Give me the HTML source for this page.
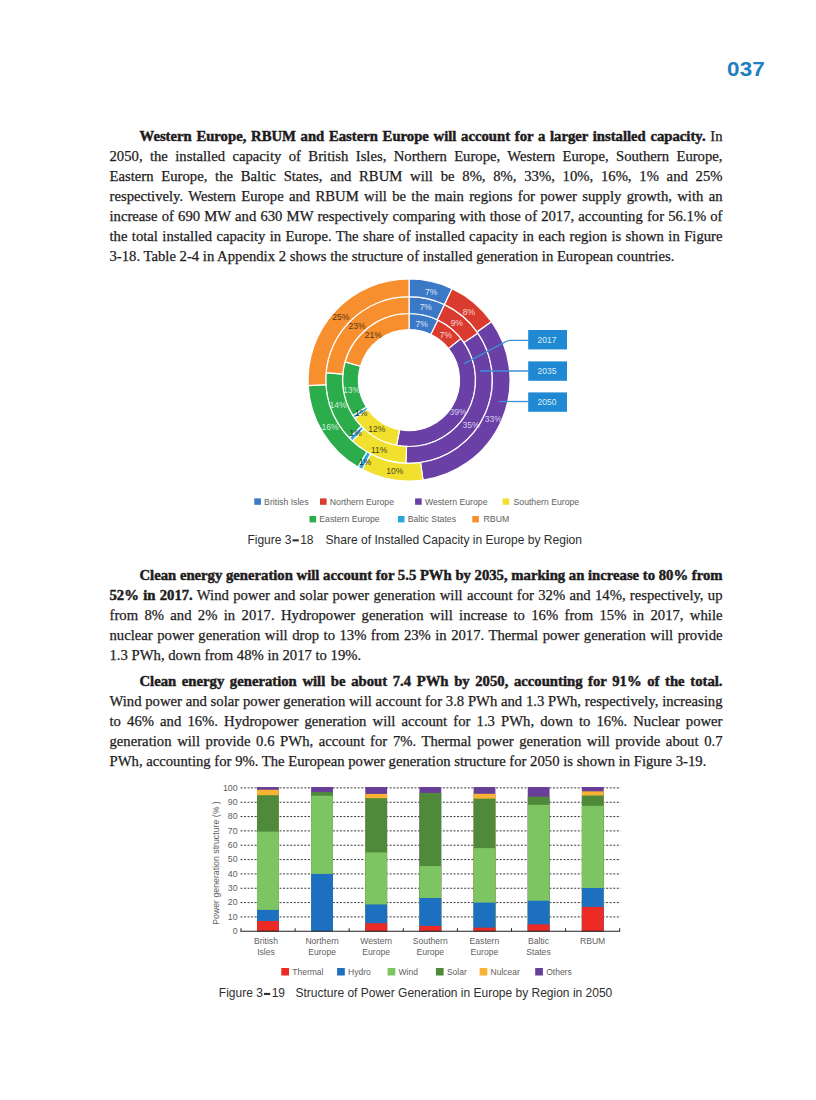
<!DOCTYPE html>
<html><head><meta charset="utf-8">
<style>
html,body{margin:0;padding:0;background:#fff;}
body{width:816px;height:1100px;position:relative;overflow:hidden;}
.ln{position:absolute;left:109.5px;width:612.5px;height:20.0px;line-height:20.0px;font-family:"Liberation Serif",serif;font-size:14.7px;color:#1e1b1c;white-space:nowrap;-webkit-text-stroke:0.25px #1e1b1c;}
.ln.ind{left:139.5px;width:582.5px;}
.ln b{font-weight:bold;-webkit-text-stroke:0.45px #1e1b1c;}
.pn{position:absolute;left:727px;top:57px;font-family:"Liberation Sans",sans-serif;font-weight:bold;font-size:20px;line-height:24px;color:#1f7dc0;letter-spacing:0.2px;transform:scaleX(1.12);transform-origin:0 0;}
svg{position:absolute;left:0;top:0;}
svg text{font-family:"Liberation Sans",sans-serif;}
.cap{position:absolute;font-family:"Liberation Sans",sans-serif;font-size:12.6px;color:#2b2b2b;white-space:pre;line-height:16px;}
</style></head><body>
<div class="pn">037</div>
<div class="ln ind" style="top:126.04px;word-spacing:1.024px"><b>Western Europe, RBUM and Eastern Europe will account for a larger installed capacity.</b> In</div>
<div class="ln" style="top:146.04px;word-spacing:3.720px">2050, the installed capacity of British Isles, Northern Europe, Western Europe, Southern Europe,</div>
<div class="ln" style="top:166.04px;word-spacing:4.073px">Eastern Europe, the Baltic States, and RBUM will be 8%, 8%, 33%, 10%, 16%, 1% and 25%</div>
<div class="ln" style="top:186.04px;word-spacing:1.624px">respectively. Western Europe and RBUM will be the main regions for power supply growth, with an</div>
<div class="ln" style="top:206.04px;word-spacing:0.464px">increase of 690 MW and 630 MW respectively comparing with those of 2017, accounting for 56.1% of</div>
<div class="ln" style="top:226.04px;word-spacing:0.710px">the total installed capacity in Europe. The share of installed capacity in each region is shown in Figure</div>
<div class="ln" style="top:246.04px;word-spacing:0.000px">3-18. Table 2-4 in Appendix 2 shows the structure of installed generation in European countries.</div>
<div class="ln ind" style="top:565.34px;word-spacing:0.002px"><b>Clean energy generation will account for 5.5 PWh by 2035, marking an increase to 80% from</b></div>
<div class="ln" style="top:585.34px;word-spacing:0.620px"><b>52% in 2017.</b> Wind power and solar power generation will account for 32% and 14%, respectively, up</div>
<div class="ln" style="top:605.34px;word-spacing:2.673px">from 8% and 2% in 2017. Hydropower generation will increase to 16% from 15% in 2017, while</div>
<div class="ln" style="top:625.34px;word-spacing:0.804px">nuclear power generation will drop to 13% from 23% in 2017. Thermal power generation will provide</div>
<div class="ln" style="top:645.34px;word-spacing:0.000px">1.3 PWh, down from 48% in 2017 to 19%.</div>
<div class="ln ind" style="top:671.24px;word-spacing:1.949px"><b>Clean energy generation will be about 7.4 PWh by 2050, accounting for 91% of the total.</b></div>
<div class="ln" style="top:691.24px;word-spacing:0.047px">Wind power and solar power generation will account for 3.8 PWh and 1.3 PWh, respectively, increasing</div>
<div class="ln" style="top:711.24px;word-spacing:2.444px">to 46% and 16%. Hydropower generation will account for 1.3 PWh, down to 16%. Nuclear power</div>
<div class="ln" style="top:731.24px;word-spacing:1.969px">generation will provide 0.6 PWh, account for 7%. Thermal power generation will provide about 0.7</div>
<div class="ln" style="top:751.24px;word-spacing:0.000px">PWh, accounting for 9%. The European power generation structure for 2050 is shown in Figure 3-19.</div>
<svg width="816" height="1100" viewBox="0 0 816 1100">
<path d="M409.05,313.50A66.5,66.5 0 0 1 437.93,320.10L430.98,334.51A50.5,50.5 0 0 0 409.05,329.50Z" fill="#3b78c6" stroke="#fff" stroke-width="1.2"/>
<path d="M437.93,320.10A66.5,66.5 0 0 1 461.08,338.58L448.56,348.55A50.5,50.5 0 0 0 430.98,334.51Z" fill="#da3b2f" stroke="#fff" stroke-width="1.2"/>
<path d="M461.08,338.58A66.5,66.5 0 0 1 396.59,445.32L399.59,429.61A50.5,50.5 0 0 0 448.56,348.55Z" fill="#6a3fa6" stroke="#fff" stroke-width="1.2"/>
<path d="M396.59,445.32A66.5,66.5 0 0 1 354.64,418.24L367.73,409.04A50.5,50.5 0 0 0 399.59,429.61Z" fill="#f1e12e" stroke="#fff" stroke-width="1.2"/>
<path d="M354.64,418.24A66.5,66.5 0 0 1 352.79,415.46L366.33,406.93A50.5,50.5 0 0 0 367.73,409.04Z" fill="#2aa6dd" stroke="#fff" stroke-width="1.2"/>
<path d="M352.79,415.46A66.5,66.5 0 0 1 345.08,361.85L360.47,366.22A50.5,50.5 0 0 0 366.33,406.93Z" fill="#2aad4a" stroke="#fff" stroke-width="1.2"/>
<path d="M345.08,361.85A66.5,66.5 0 0 1 409.05,313.50L409.05,329.50A50.5,50.5 0 0 0 360.47,366.22Z" fill="#f78f2e" stroke="#fff" stroke-width="1.2"/>
<path d="M409.05,296.70A83.3,83.3 0 0 1 444.52,304.63L437.36,319.83A66.5,66.5 0 0 0 409.05,313.50Z" fill="#3b78c6" stroke="#fff" stroke-width="1.2"/>
<path d="M444.52,304.63A83.3,83.3 0 0 1 477.95,333.18L464.05,342.62A66.5,66.5 0 0 0 437.36,319.83Z" fill="#da3b2f" stroke="#fff" stroke-width="1.2"/>
<path d="M477.95,333.18A83.3,83.3 0 0 1 405.91,463.24L406.54,446.45A66.5,66.5 0 0 0 464.05,342.62Z" fill="#6a3fa6" stroke="#fff" stroke-width="1.2"/>
<path d="M405.91,463.24A83.3,83.3 0 0 1 352.22,440.90L363.68,428.62A66.5,66.5 0 0 0 406.54,446.45Z" fill="#f1e12e" stroke="#fff" stroke-width="1.2"/>
<path d="M352.22,440.90A83.3,83.3 0 0 1 349.23,437.97L361.29,426.28A66.5,66.5 0 0 0 363.68,428.62Z" fill="#2aa6dd" stroke="#fff" stroke-width="1.2"/>
<path d="M349.23,437.97A83.3,83.3 0 0 1 326.07,372.68L342.81,374.16A66.5,66.5 0 0 0 361.29,426.28Z" fill="#2aad4a" stroke="#fff" stroke-width="1.2"/>
<path d="M326.07,372.68A83.3,83.3 0 0 1 409.05,296.70L409.05,313.50A66.5,66.5 0 0 0 342.81,374.16Z" fill="#f78f2e" stroke="#fff" stroke-width="1.2"/>
<path d="M409.05,279.00A101.0,101.0 0 0 1 452.05,288.61L444.52,304.63A83.3,83.3 0 0 0 409.05,296.70Z" fill="#3b78c6" stroke="#fff" stroke-width="1.2"/>
<path d="M452.05,288.61A101.0,101.0 0 0 1 491.50,321.67L477.05,331.89A83.3,83.3 0 0 0 444.52,304.63Z" fill="#da3b2f" stroke="#fff" stroke-width="1.2"/>
<path d="M491.50,321.67A101.0,101.0 0 0 1 422.97,480.04L420.53,462.51A83.3,83.3 0 0 0 477.05,331.89Z" fill="#6a3fa6" stroke="#fff" stroke-width="1.2"/>
<path d="M422.97,480.04A101.0,101.0 0 0 1 362.35,469.56L370.53,453.86A83.3,83.3 0 0 0 420.53,462.51Z" fill="#f1e12e" stroke="#fff" stroke-width="1.2"/>
<path d="M362.35,469.56A101.0,101.0 0 0 1 357.91,467.10L366.87,451.83A83.3,83.3 0 0 0 370.53,453.86Z" fill="#2aa6dd" stroke="#fff" stroke-width="1.2"/>
<path d="M357.91,467.10A101.0,101.0 0 0 1 308.21,385.71L325.88,384.71A83.3,83.3 0 0 0 366.87,451.83Z" fill="#2aad4a" stroke="#fff" stroke-width="1.2"/>
<path d="M308.21,385.71A101.0,101.0 0 0 1 409.05,279.00L409.05,296.70A83.3,83.3 0 0 0 325.88,384.71Z" fill="#f78f2e" stroke="#fff" stroke-width="1.2"/>
<text x="431.2" y="294.8" fill="#dfe8f5" font-size="8.5" text-anchor="middle">7%</text>
<text x="468.9" y="315.0" fill="#f5d6d2" font-size="8.5" text-anchor="middle">8%</text>
<text x="493.2" y="422.3" fill="#d9cdee" font-size="8.5" text-anchor="middle">33%</text>
<text x="394.8" y="474.09999999999997" fill="#4a4520" font-size="8.5" text-anchor="middle">10%</text>
<text x="365.1" y="465.2" fill="#333" font-size="8.5" text-anchor="middle">1%</text>
<text x="330.1" y="429.59999999999997" fill="#d4f0dc" font-size="8.5" text-anchor="middle">16%</text>
<text x="340.8" y="320.4" fill="#5a3512" font-size="8.5" text-anchor="middle">25%</text>
<text x="425.8" y="310.09999999999997" fill="#dfe8f5" font-size="8.5" text-anchor="middle">7%</text>
<text x="456.8" y="325.8" fill="#f5d6d2" font-size="8.5" text-anchor="middle">9%</text>
<text x="471.1" y="427.7" fill="#d9cdee" font-size="8.5" text-anchor="middle">35%</text>
<text x="379.1" y="453.3" fill="#4a4520" font-size="8.5" text-anchor="middle">11%</text>
<text x="355.7" y="436.3" fill="#333" font-size="8.5" text-anchor="middle">1%</text>
<text x="338.1" y="408.0" fill="#d4f0dc" font-size="8.5" text-anchor="middle">14%</text>
<text x="357.0" y="329.3" fill="#5a3512" font-size="8.5" text-anchor="middle">23%</text>
<text x="421.7" y="326.59999999999997" fill="#dfe8f5" font-size="8.5" text-anchor="middle">7%</text>
<text x="446.0" y="337.9" fill="#f5d6d2" font-size="8.5" text-anchor="middle">7%</text>
<text x="458.1" y="415.3" fill="#d9cdee" font-size="8.5" text-anchor="middle">39%</text>
<text x="376.7" y="432.3" fill="#4a4520" font-size="8.5" text-anchor="middle">12%</text>
<text x="361.1" y="416.09999999999997" fill="#333" font-size="8.5" text-anchor="middle">1%</text>
<text x="351.6" y="392.59999999999997" fill="#d4f0dc" font-size="8.5" text-anchor="middle">13%</text>
<text x="373.2" y="337.9" fill="#5a3512" font-size="8.5" text-anchor="middle">21%</text>
<rect x="528.2" y="330" width="38.8" height="19.4" fill="#2089d3"/>
<text x="547" y="343" fill="#dcedf9" font-size="8.5" text-anchor="middle">2017</text>
<rect x="528.2" y="361.4" width="38.8" height="19.4" fill="#2089d3"/>
<text x="547" y="374.4" fill="#dcedf9" font-size="8.5" text-anchor="middle">2035</text>
<rect x="528.2" y="392.4" width="38.8" height="19.4" fill="#2089d3"/>
<text x="547" y="405.4" fill="#dcedf9" font-size="8.5" text-anchor="middle">2050</text>
<path d="M528.2,340.3 H511 Q506.5,340.3 503,343.2 L463.8,363.8" fill="none" stroke="#3d8fd4" stroke-width="1.3"/>
<path d="M528.2,371 L480,371" fill="none" stroke="#3d8fd4" stroke-width="1.3"/>
<path d="M528.2,401.5 L498.9,401.5" fill="none" stroke="#3d8fd4" stroke-width="1.3"/>
<rect x="254.3" y="498.4" width="6.6" height="6.4" fill="#3b78c6"/>
<text x="264.1" y="504.79999999999995" fill="#606060" font-size="8.7">British Isles</text>
<rect x="320" y="498.4" width="6.6" height="6.4" fill="#da3b2f"/>
<text x="329.8" y="504.79999999999995" fill="#606060" font-size="8.7">Northern Europe</text>
<rect x="415.1" y="498.4" width="6.6" height="6.4" fill="#6a3fa6"/>
<text x="424.90000000000003" y="504.79999999999995" fill="#606060" font-size="8.7">Western Europe</text>
<rect x="502.6" y="498.4" width="6.6" height="6.4" fill="#f1e12e"/>
<text x="513.5" y="504.79999999999995" fill="#606060" font-size="8.7">Southern Europe</text>
<rect x="309.5" y="516" width="6.6" height="6.4" fill="#2aad4a"/>
<text x="319.3" y="522.4" fill="#606060" font-size="8.7">Eastern Europe</text>
<rect x="397.9" y="516" width="6.6" height="6.4" fill="#2aa6dd"/>
<text x="407.7" y="522.4" fill="#606060" font-size="8.7">Baltic States</text>
<rect x="472.3" y="516" width="6.6" height="6.4" fill="#f78f2e"/>
<text x="483.6" y="522.4" fill="#606060" font-size="8.7">RBUM</text>
<line x1="240.5" y1="916.91" x2="620.6" y2="916.91" stroke="#3a3a3a" stroke-width="1.0" stroke-dasharray="2 1.55"/>
<line x1="240.5" y1="902.58" x2="620.6" y2="902.58" stroke="#3a3a3a" stroke-width="1.0" stroke-dasharray="2 1.55"/>
<line x1="240.5" y1="888.25" x2="620.6" y2="888.25" stroke="#3a3a3a" stroke-width="1.0" stroke-dasharray="2 1.55"/>
<line x1="240.5" y1="873.91" x2="620.6" y2="873.91" stroke="#3a3a3a" stroke-width="1.0" stroke-dasharray="2 1.55"/>
<line x1="240.5" y1="859.58" x2="620.6" y2="859.58" stroke="#3a3a3a" stroke-width="1.0" stroke-dasharray="2 1.55"/>
<line x1="240.5" y1="845.24" x2="620.6" y2="845.24" stroke="#3a3a3a" stroke-width="1.0" stroke-dasharray="2 1.55"/>
<line x1="240.5" y1="830.90" x2="620.6" y2="830.90" stroke="#3a3a3a" stroke-width="1.0" stroke-dasharray="2 1.55"/>
<line x1="240.5" y1="816.57" x2="620.6" y2="816.57" stroke="#3a3a3a" stroke-width="1.0" stroke-dasharray="2 1.55"/>
<line x1="240.5" y1="802.24" x2="620.6" y2="802.24" stroke="#3a3a3a" stroke-width="1.0" stroke-dasharray="2 1.55"/>
<line x1="240.5" y1="787.90" x2="620.6" y2="787.90" stroke="#3a3a3a" stroke-width="1.0" stroke-dasharray="2 1.55"/>
<text x="237.6" y="933.85" fill="#606060" font-size="8.8" text-anchor="end">0</text>
<text x="237.6" y="919.51" fill="#606060" font-size="8.8" text-anchor="end">10</text>
<text x="237.6" y="905.18" fill="#606060" font-size="8.8" text-anchor="end">20</text>
<text x="237.6" y="890.85" fill="#606060" font-size="8.8" text-anchor="end">30</text>
<text x="237.6" y="876.51" fill="#606060" font-size="8.8" text-anchor="end">40</text>
<text x="237.6" y="862.18" fill="#606060" font-size="8.8" text-anchor="end">50</text>
<text x="237.6" y="847.84" fill="#606060" font-size="8.8" text-anchor="end">60</text>
<text x="237.6" y="833.50" fill="#606060" font-size="8.8" text-anchor="end">70</text>
<text x="237.6" y="819.17" fill="#606060" font-size="8.8" text-anchor="end">80</text>
<text x="237.6" y="804.84" fill="#606060" font-size="8.8" text-anchor="end">90</text>
<text x="237.6" y="790.50" fill="#606060" font-size="8.8" text-anchor="end">100</text>
<rect x="257.0" y="787.04" width="21.8" height="144.21" fill="#673e98"/>
<rect x="257.0" y="789.76" width="21.8" height="141.49" fill="#f8b234"/>
<rect x="257.0" y="795.21" width="21.8" height="136.04" fill="#4f8a3b"/>
<rect x="257.0" y="831.62" width="21.8" height="99.63" fill="#7dc462"/>
<rect x="257.0" y="909.89" width="21.8" height="21.36" fill="#1d6fc0"/>
<rect x="257.0" y="921.00" width="21.8" height="10.25" fill="#ec2a26"/>
<rect x="311.15" y="787.04" width="21.8" height="144.21" fill="#673e98"/>
<rect x="311.15" y="792.06" width="21.8" height="139.19" fill="#4f8a3b"/>
<rect x="311.15" y="795.78" width="21.8" height="135.47" fill="#7dc462"/>
<rect x="311.15" y="873.91" width="21.8" height="57.34" fill="#1d6fc0"/>
<rect x="365.3" y="787.04" width="21.8" height="144.21" fill="#673e98"/>
<rect x="365.3" y="793.92" width="21.8" height="137.33" fill="#f8b234"/>
<rect x="365.3" y="798.22" width="21.8" height="133.03" fill="#4f8a3b"/>
<rect x="365.3" y="852.41" width="21.8" height="78.84" fill="#7dc462"/>
<rect x="365.3" y="904.44" width="21.8" height="26.81" fill="#1d6fc0"/>
<rect x="365.3" y="923.22" width="21.8" height="8.03" fill="#ec2a26"/>
<rect x="419.45" y="787.04" width="21.8" height="144.21" fill="#673e98"/>
<rect x="419.45" y="792.92" width="21.8" height="138.33" fill="#4f8a3b"/>
<rect x="419.45" y="866.03" width="21.8" height="65.22" fill="#7dc462"/>
<rect x="419.45" y="897.99" width="21.8" height="33.26" fill="#1d6fc0"/>
<rect x="419.45" y="925.95" width="21.8" height="5.30" fill="#ec2a26"/>
<rect x="473.6" y="787.04" width="21.8" height="144.21" fill="#673e98"/>
<rect x="473.6" y="793.78" width="21.8" height="137.47" fill="#f8b234"/>
<rect x="473.6" y="798.65" width="21.8" height="132.60" fill="#4f8a3b"/>
<rect x="473.6" y="848.11" width="21.8" height="83.14" fill="#7dc462"/>
<rect x="473.6" y="902.58" width="21.8" height="28.67" fill="#1d6fc0"/>
<rect x="473.6" y="927.67" width="21.8" height="3.58" fill="#ec2a26"/>
<rect x="527.75" y="787.04" width="21.8" height="144.21" fill="#673e98"/>
<rect x="527.75" y="796.64" width="21.8" height="134.61" fill="#4f8a3b"/>
<rect x="527.75" y="804.82" width="21.8" height="126.43" fill="#7dc462"/>
<rect x="527.75" y="900.72" width="21.8" height="30.53" fill="#1d6fc0"/>
<rect x="527.75" y="924.37" width="21.8" height="6.88" fill="#ec2a26"/>
<rect x="581.9" y="787.04" width="21.8" height="144.21" fill="#673e98"/>
<rect x="581.9" y="791.34" width="21.8" height="139.91" fill="#f8b234"/>
<rect x="581.9" y="795.50" width="21.8" height="135.75" fill="#4f8a3b"/>
<rect x="581.9" y="805.82" width="21.8" height="125.43" fill="#7dc462"/>
<rect x="581.9" y="887.96" width="21.8" height="43.29" fill="#1d6fc0"/>
<rect x="581.9" y="906.88" width="21.8" height="24.37" fill="#ec2a26"/>
<line x1="240.4" y1="931.25" x2="620" y2="931.25" stroke="#222" stroke-width="1.2"/>
<line x1="241.0" y1="928.25" x2="241.0" y2="931.25" stroke="#222" stroke-width="1"/>
<line x1="295.1" y1="928.25" x2="295.1" y2="931.25" stroke="#222" stroke-width="1"/>
<line x1="349.2" y1="928.25" x2="349.2" y2="931.25" stroke="#222" stroke-width="1"/>
<line x1="403.3" y1="928.25" x2="403.3" y2="931.25" stroke="#222" stroke-width="1"/>
<line x1="457.4" y1="928.25" x2="457.4" y2="931.25" stroke="#222" stroke-width="1"/>
<line x1="511.5" y1="928.25" x2="511.5" y2="931.25" stroke="#222" stroke-width="1"/>
<line x1="565.6" y1="928.25" x2="565.6" y2="931.25" stroke="#222" stroke-width="1"/>
<line x1="619.7" y1="928.25" x2="619.7" y2="931.25" stroke="#222" stroke-width="1"/>
<text x="266.0" y="944.2" fill="#606060" font-size="8.6" text-anchor="middle">British</text>
<text x="266.0" y="954.7" fill="#606060" font-size="8.6" text-anchor="middle">Isles</text>
<text x="322.1" y="944.2" fill="#606060" font-size="8.6" text-anchor="middle">Northern</text>
<text x="322.1" y="954.7" fill="#606060" font-size="8.6" text-anchor="middle">Europe</text>
<text x="376.2" y="944.2" fill="#606060" font-size="8.6" text-anchor="middle">Western</text>
<text x="376.2" y="954.7" fill="#606060" font-size="8.6" text-anchor="middle">Europe</text>
<text x="430.3" y="944.2" fill="#606060" font-size="8.6" text-anchor="middle">Southern</text>
<text x="430.3" y="954.7" fill="#606060" font-size="8.6" text-anchor="middle">Europe</text>
<text x="484.4" y="944.2" fill="#606060" font-size="8.6" text-anchor="middle">Eastern</text>
<text x="484.4" y="954.7" fill="#606060" font-size="8.6" text-anchor="middle">Europe</text>
<text x="538.5" y="944.2" fill="#606060" font-size="8.6" text-anchor="middle">Baltic</text>
<text x="538.5" y="954.7" fill="#606060" font-size="8.6" text-anchor="middle">States</text>
<text x="592.6" y="944.2" fill="#606060" font-size="8.6" text-anchor="middle">RBUM</text>
<text transform="translate(218.6,863) rotate(-90)" fill="#606060" font-size="8.75" text-anchor="middle">Power generation structure (% )</text>
<rect x="281.3" y="968" width="7.7" height="7.5" fill="#ec2a26"/>
<text x="292.3" y="975.2" fill="#606060" font-size="8.5">Thermal</text>
<rect x="337.1" y="968" width="7.7" height="7.5" fill="#1d6fc0"/>
<text x="348.1" y="975.2" fill="#606060" font-size="8.5">Hydro</text>
<rect x="387.6" y="968" width="7.7" height="7.5" fill="#7dc462"/>
<text x="398.6" y="975.2" fill="#606060" font-size="8.5">Wind</text>
<rect x="435.9" y="968" width="7.7" height="7.5" fill="#4f8a3b"/>
<text x="446.9" y="975.2" fill="#606060" font-size="8.5">Solar</text>
<rect x="479.6" y="968" width="7.7" height="7.5" fill="#f8b234"/>
<text x="490.6" y="975.2" fill="#606060" font-size="8.5">Nulcear</text>
<rect x="535.2" y="968" width="7.7" height="7.5" fill="#673e98"/>
<text x="546.2" y="975.2" fill="#606060" font-size="8.5">Others</text>
<text x="247.4" y="543.8" fill="#2e2e2e" font-size="12">Figure 3</text>
<rect x="292.5" y="539.3" width="6.25" height="2.1" fill="#2e2e2e"/>
<text x="300.2" y="543.8" fill="#2e2e2e" font-size="12">18</text>
<text x="325.5" y="543.8" fill="#2e2e2e" font-size="12.05">Share of Installed Capacity in Europe by Region</text>
<text x="218.8" y="997.4" fill="#2e2e2e" font-size="12">Figure 3</text>
<rect x="264" y="992.9" width="6.199999999999989" height="2.1" fill="#2e2e2e"/>
<text x="271.7" y="997.4" fill="#2e2e2e" font-size="12">19</text>
<text x="295.4" y="997.4" fill="#2e2e2e" font-size="12">Structure of Power Generation in Europe by Region in 2050</text>
</svg>
</body></html>
